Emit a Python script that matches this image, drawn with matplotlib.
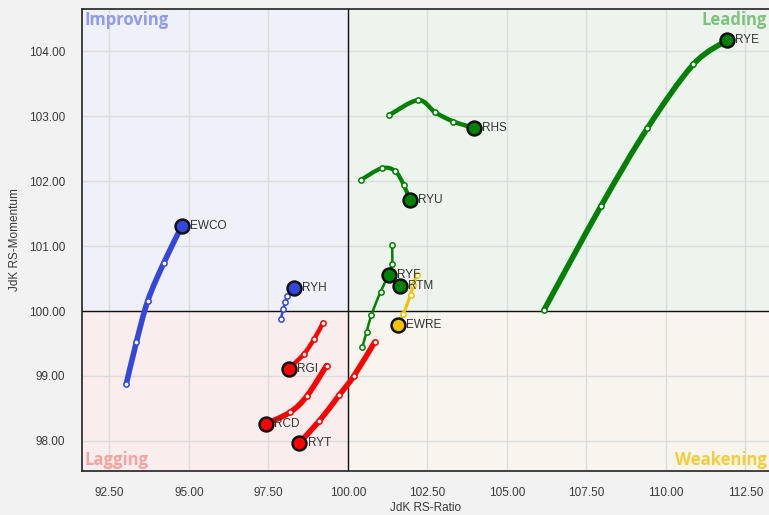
from matplotlib import pyplot as plt
from matplotlib.patches import Rectangle, PathPatch
from matplotlib.path import Path
import numpy as np

# tails -> heads (oldest point first, last point is the current position)
tickers = ["RYE", "RHS", "RYU", "RYF", "RTM", "EWRE", "EWCO", "RYH", "RGI", "RCD", "RYT"]
ratio = {
    "RYE": [106.17, 107.96, 109.42, 110.86, 111.92],
    "RHS": [101.30, 102.21, 102.75, 103.32, 103.97],
    "RYU": [100.41, 101.06, 101.48, 101.76, 101.95],
    "RYF": [100.45, 100.59, 100.74, 101.03, 101.28],
    "RTM": [101.39, 101.39, 101.28, 101.64],
    "EWRE": [102.16, 102.05, 101.97, 101.74, 101.58],
    "EWCO": [93.03, 93.35, 93.71, 94.21, 94.78],
    "RYH": [97.89, 97.97, 98.03, 98.10, 98.30],
    "RGI": [99.22, 98.94, 98.62, 98.14],
    "RCD": [99.33, 98.71, 98.18, 97.41],
    "RYT": [100.84, 100.19, 99.72, 99.09, 98.47],
}
momentum = {
    "RYE": [100.02, 101.62, 102.82, 103.80, 104.17],
    "RHS": [103.02, 103.25, 103.06, 102.92, 102.82],
    "RYU": [102.02, 102.20, 102.16, 101.94, 101.71],
    "RYF": [99.44, 99.68, 99.94, 100.30, 100.55],
    "RTM": [101.02, 100.73, 100.55, 100.38],
    "EWRE": [100.55, 100.40, 100.25, 99.95, 99.78],
    "EWCO": [98.87, 99.52, 100.16, 100.74, 101.31],
    "RYH": [99.88, 100.03, 100.14, 100.23, 100.35],
    "RGI": [99.82, 99.57, 99.34, 99.11],
    "RCD": [99.16, 98.69, 98.44, 98.26],
    "RYT": [99.52, 99.00, 98.70, 98.30, 97.97],
}
colors = {
    "RYE": "#008000", "RHS": "#008000", "RYU": "#008000", "RYF": "#008000",
    "RTM": "#008000", "EWRE": "#f2c200", "EWCO": "#3347dd", "RYH": "#3347dd",
    "RGI": "#ff0000", "RCD": "#ff0000", "RYT": "#ff0000",
}
widths = {
    "RYE": 4.0, "RHS": 3.2, "RYU": 3.0, "RYF": 1.8, "RTM": 1.8, "EWRE": 2.2,
    "EWCO": 4.0, "RYH": 1.8, "RGI": 3.2, "RCD": 4.0, "RYT": 4.0,
}

x_ticks = [92.5, 95.0, 97.5, 100.0, 102.5, 105.0, 107.5, 110.0, 112.5]
y_ticks = [98.0, 99.0, 100.0, 101.0, 102.0, 103.0, 104.0]
x_min, x_max = 91.64, 113.24
y_min, y_max = 97.54, 104.65


def spline_path(xs, ys):
    # smooth tail through the points (Catmull-Rom drawn as cubic Bezier)
    p = np.column_stack([xs, ys])
    verts, codes = [p[0]], [Path.MOVETO]
    for i in range(len(p) - 1):
        p0 = p[i - 1] if i > 0 else p[i]
        p3 = p[i + 2] if i + 2 < len(p) else p[i + 1]
        verts += [p[i] + (p[i + 1] - p0) / 6, p[i + 1] - (p3 - p[i]) / 6, p[i + 1]]
        codes += [Path.CURVE4] * 3
    return Path(verts, codes)


fig = plt.figure(figsize=(7.69, 5.15), dpi=100, facecolor="#f2f2f2")
ax = fig.add_axes([0.1066, 0.086, 0.8934, 0.896])

# quadrant backgrounds
ax.add_patch(Rectangle((x_min, 100), 100 - x_min, y_max - 100, color="#eff0f8", zorder=0))
ax.add_patch(Rectangle((100, 100), x_max - 100, y_max - 100, color="#edf3ed", zorder=0))
ax.add_patch(Rectangle((x_min, y_min), 100 - x_min, 100 - y_min, color="#f9eded", zorder=0))
ax.add_patch(Rectangle((100, y_min), x_max - 100, 100 - y_min, color="#f8f5ee", zorder=0))

ax.grid(True, color="#dcdcdc", linewidth=1, zorder=1)
ax.set_axisbelow(True)
ax.axvline(100, color="#111111", linewidth=1, zorder=2)
ax.axhline(100, color="#111111", linewidth=1, zorder=2)

for t in tickers:
    xs, ys, c = ratio[t], momentum[t], colors[t]
    ax.add_patch(PathPatch(spline_path(xs, ys), fill=False, edgecolor=c,
                           linewidth=widths[t], capstyle="round",
                           joinstyle="round", zorder=3))
    ax.plot(xs[:-1], ys[:-1], "o", markersize=3.8, markerfacecolor="white",
            markeredgecolor=c, markeredgewidth=1.1, zorder=4)
    ax.plot(xs[-1], ys[-1], "o", markersize=10, markerfacecolor=c,
            markeredgecolor="#111111", markeredgewidth=1.8, zorder=5)
    ax.annotate(t, (xs[-1], ys[-1]), xytext=(6, 0), textcoords="offset points",
                va="center", ha="left", fontsize=8.5, color="#333333",
                family="Liberation Sans", zorder=6)

qfont = dict(fontsize=12, fontweight="bold", family="Open Sans", transform=ax.transAxes)
ax.text(0.004, 0.997, "Improving", color="#8e9cf0", ha="left", va="top", **qfont)
ax.text(0.997, 0.997, "Leading", color="#7cc47c", ha="right", va="top", **qfont)
ax.text(0.004, 0.004, "Lagging", color="#f5a3a3", ha="left", va="bottom", **qfont)
ax.text(0.997, 0.004, "Weakening", color="#f5cc3a", ha="right", va="bottom", **qfont)

ax.set_xlim(x_min, x_max)
ax.set_ylim(y_min, y_max)
ax.set_xticks(x_ticks)
ax.set_yticks(y_ticks)
ax.set_xticklabels([f"{v:.2f}" for v in x_ticks], family="Liberation Sans")
ax.set_yticklabels([f"{v:.2f}" for v in y_ticks], family="Liberation Sans")
ax.tick_params(length=0, labelsize=8.5, labelcolor="#3a3a3a")
ax.tick_params(axis="x", pad=12)
ax.tick_params(axis="y", pad=12)
ax.set_xlabel("JdK RS-Ratio", fontsize=8.5, color="#3a3a3a", family="Liberation Sans", labelpad=2)
ax.set_ylabel("JdK RS-Momentum", fontsize=8.5, color="#3a3a3a", family="Liberation Sans", labelpad=6)

for s in ["left", "bottom", "top"]:
    ax.spines[s].set_color("#222222")
    ax.spines[s].set_linewidth(1.2)
ax.spines["right"].set_visible(False)

plt.savefig("out.png", dpi=100, facecolor=fig.get_facecolor())
